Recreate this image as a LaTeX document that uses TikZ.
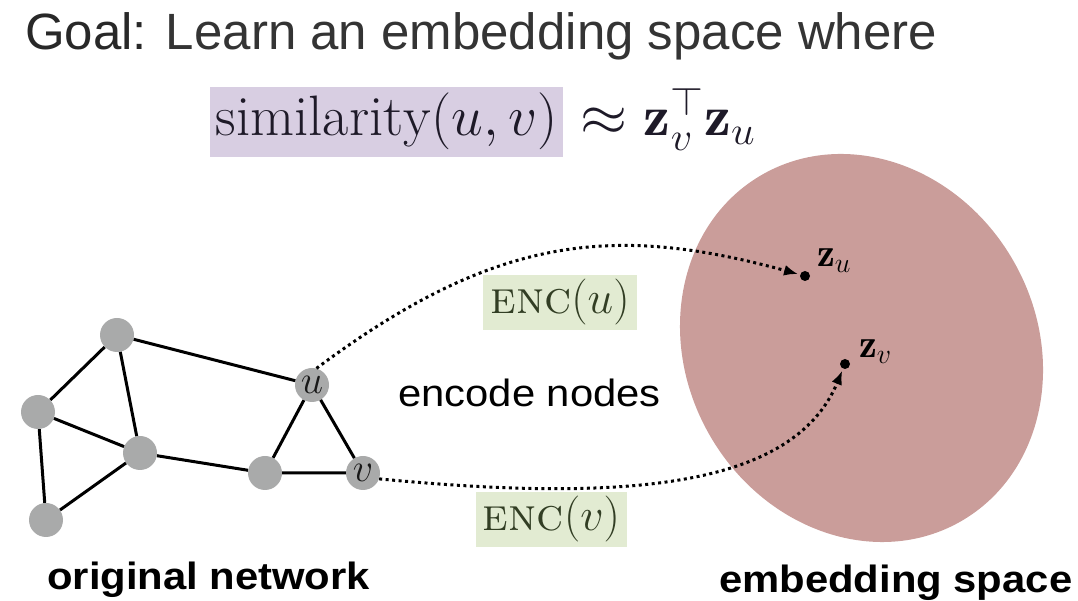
\RequirePackage{fix-cm}
\documentclass[tikz,border=0pt]{standalone}
\usepackage{amsmath}
\usepackage{graphicx}
\usepackage{fontspec}
\usetikzlibrary{arrows.meta}
\newfontfamily\helv{Liberation Sans}
\definecolor{nodegray}{RGB}{169,170,170}
\definecolor{lav}{RGB}{216,206,226}
\definecolor{encgreen}{RGB}{226,235,210}
\definecolor{enctext}{RGB}{50,62,36}
\definecolor{blobcol}{RGB}{202,157,154}
\definecolor{titlegray}{RGB}{52,52,52}
\definecolor{titledark}{RGB}{40,40,40}
\definecolor{simtext}{RGB}{30,26,40}
\tikzset{
  gnode/.style={circle, fill=nodegray, minimum size=34pt, inner sep=0pt, font=\fontsize{40}{44}\selectfont, text={rgb,255:red,25;green,25;blue,25}},
  edge/.style={line width=3pt, black},
  encbox/.style={fill=encgreen, text=enctext, inner xsep=7pt, inner ysep=4.5pt, font=\fontsize{46}{50}\selectfont},
  embdot/.style={circle, fill=black, minimum size=10pt, inner sep=0pt},
  encarrow/.style={line width=3pt, dash pattern=on 3pt off 3.5pt, -{Latex[length=14pt,width=11pt]}, shorten >=2pt},
  plain/.style={anchor=base west, inner sep=0pt}
}
\begin{document}
\begin{tikzpicture}[x=1pt,y=1pt]
\useasboundingbox (0,0) rectangle (1078,601);
% embedding space blob
\fill[blobcol, rotate around={-60.2:(861.5,253)}] (861.5,253) ellipse [x radius=199.8, y radius=175.1];
% title
\node[plain, font=\helv\fontsize{51}{60}\selectfont, text=titlegray] (title) at (25,551)
  {{\color{titledark}Goal:} Learn an embedding space where};
% similarity formula
\node[anchor=base west, fill=lav, inner xsep=5.5pt, inner ysep=6.5pt, text=simtext] (sim) at (210,465)
  {\fontsize{57}{62}\selectfont$\mathrm{similarity}(u,v)$};
\node[plain, text=simtext] (approx) at (sim.base east)
  {\fontsize{57}{62}\selectfont\scalebox{1.06}[1]{${}\approx\mathbf{z}_v^{\top}\mathbf{z}_u$}};
% graph
\node[gnode] (A) at (117,266) {};
\node[gnode] (B) at (38,189) {};
\node[gnode] (C) at (140,148) {};
\node[gnode] (D) at (46,81) {};
\node[gnode] (E) at (265,128) {};
\node[gnode] (u) at (312,216) {$u$};
\node[gnode] (v) at (363,128) {$v$};
\draw[edge] (A)--(B) (A)--(C) (A)--(u) (B)--(C) (B)--(D) (D)--(C) (C)--(E) (E)--(u) (E)--(v) (u)--(v);
% embedding points
\node[embdot] (zud) at (805,325) {};
\node[embdot] (zvd) at (845,237) {};
\node[plain, font=\fontsize{40}{44}\selectfont] (zul) at (817,334) {$\mathbf{z}_u$};
\node[plain, font=\fontsize{40}{44}\selectfont] (zvl) at (859,243) {$\mathbf{z}_v$};
% encoder arrows
\draw[encarrow] (u.75) .. controls (494,365) and (612,378) .. (zud);
\draw[encarrow] (v.-20) .. controls (629,98) and (794,114) .. (zvd);
\node[encbox] (encu) at (560,298.5) {\textsc{enc}$(u)$};
\node[encbox] (encv) at (551.5,81.5) {\textsc{enc}$(v)$};
% labels
\node[plain, font=\helv\fontsize{38}{44}\selectfont] (enc) at (398,194) {\scalebox{1.1}[1]{encode nodes}};
\node[plain, font=\helv\bfseries\fontsize{38}{44}\selectfont] (orig) at (47,11) {\scalebox{1.1}[1]{original network}};
\node[plain, font=\helv\bfseries\fontsize{38}{44}\selectfont] (emb) at (719,8) {\scalebox{1.1}[1]{embedding space}};
\end{tikzpicture}
\end{document}
